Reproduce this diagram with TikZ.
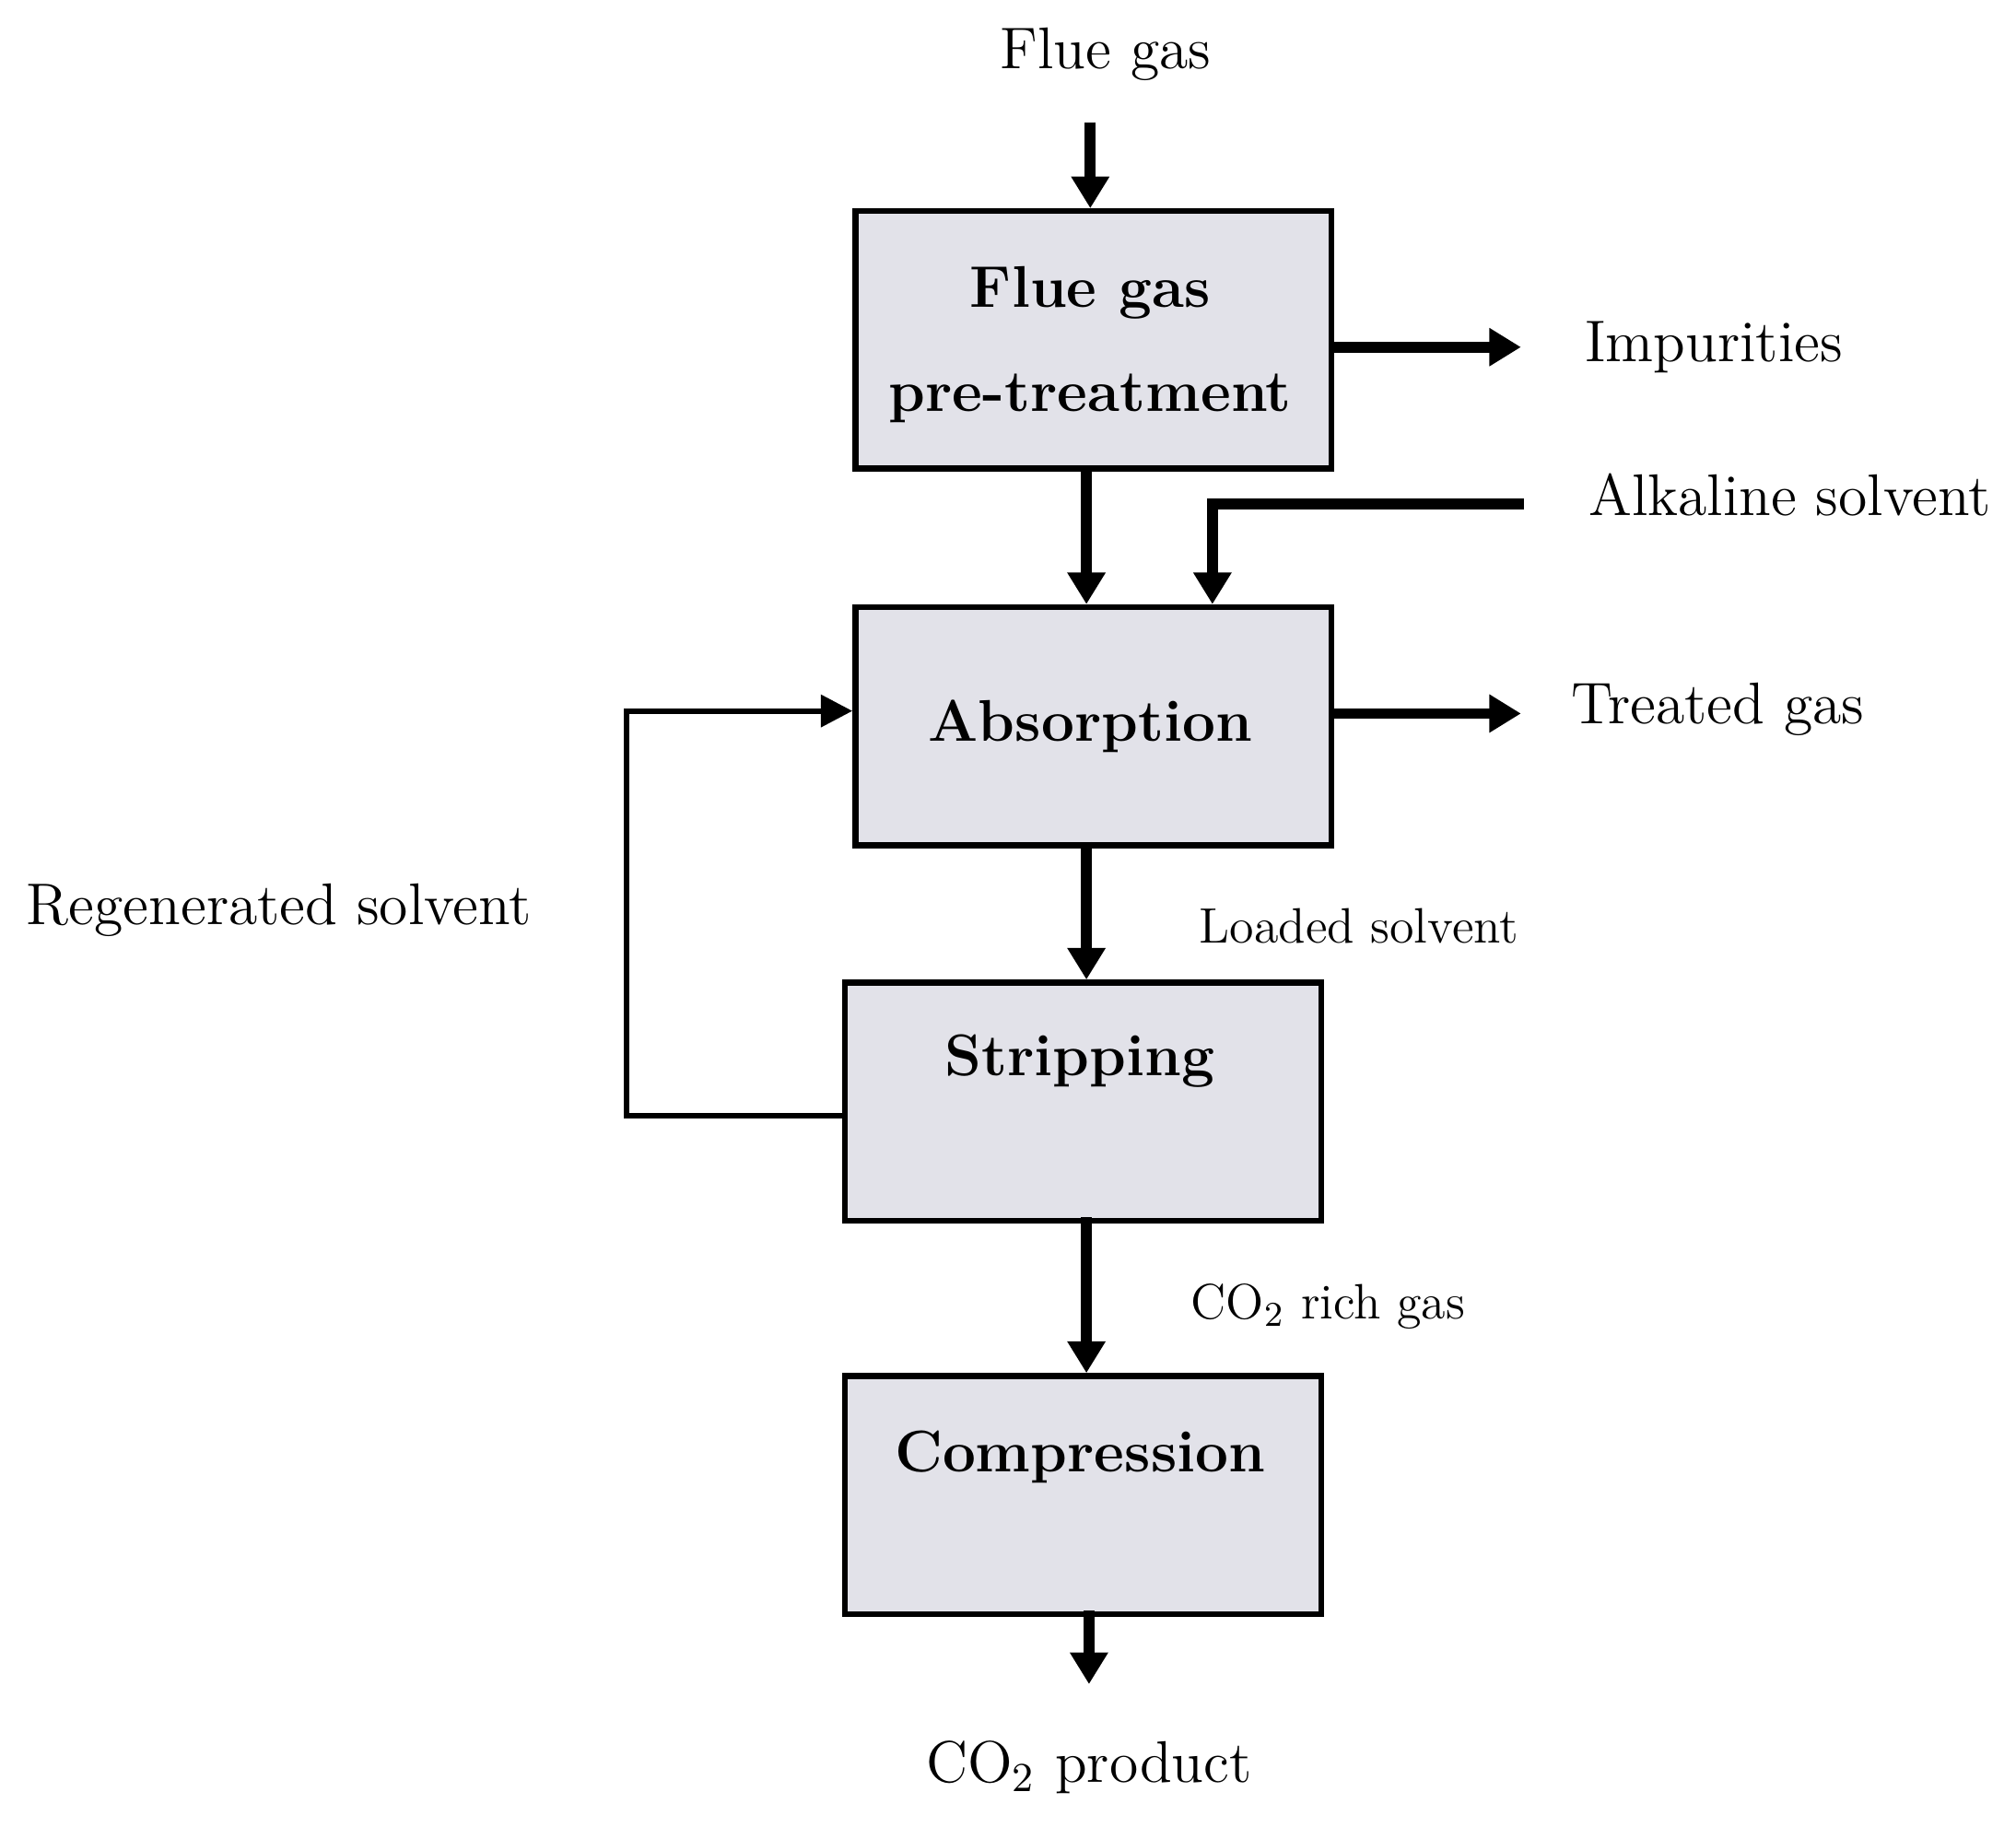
\documentclass[tikz,border=0pt]{standalone}
\usetikzlibrary{arrows.meta}
\begin{document}
\begin{tikzpicture}[x=0.01cm,y=-0.01cm,
  box/.style={draw,line width=1.3pt,fill=blue!15!gray!20,inner sep=0pt,anchor=north west},
  lbl/.style={font=\fontsize{13}{15}\selectfont},
  small/.style={font=\fontsize{11}{13}\selectfont},
  flow/.style={line width=2.4pt,-{Triangle[length=7pt,width=8pt]}},
  thin flow/.style={line width=1.2pt,-{Triangle[length=7pt,width=7pt]}}]
\useasboundingbox (0,0) rectangle (1568,1421);
\node[box,minimum width=370\pgflinewidth,minimum width=3.7cm,minimum height=2cm] (pre) at (663,162) {};
\node[font=\fontsize{13}{23}\selectfont\bfseries,align=center] at (848,268) {Flue gas\\pre-treatment};
\node[box,minimum width=3.7cm,minimum height=1.85cm] (abs) at (663,470) {};
\node[font=\fontsize{13}{15}\selectfont\bfseries] at (848,565) {Absorption};
\node[box,minimum width=3.7cm,minimum height=1.85cm] (str) at (655,762) {};
\node[font=\fontsize{13}{15}\selectfont\bfseries] at (840,825) {Stripping};
\node[box,minimum width=3.7cm,minimum height=1.85cm] (comp) at (655,1068) {};
\node[font=\fontsize{13}{15}\selectfont\bfseries] at (840,1133) {Compression};

\node[lbl] (flue) at (860,42) {Flue gas};
\node[lbl] (imp) at (1333,270) {Impurities};
\node[lbl] (alk) at (1392,385) {Alkaline solvent};
\node[lbl] (treat) at (1336,552) {Treated gas};
\node[lbl] (regen) at (217,708) {Regenerated solvent};
\node[small] (load) at (1057,720) {Loaded solvent};
\node[small] (rich) at (1033,1016) {CO\textsubscript{2} rich gas};
\node[lbl] (prod) at (847,1375) {CO\textsubscript{2} product};

\coordinate (fin) at (848,95);
\coordinate (alkin) at (1185,392);
\coordinate (pout) at (847,1310);
\draw[flow] (fin) -- (pre.north -| fin);
\draw[flow] (pre.east |- 0,270) -- (1183,270);
\draw[flow] (845,362) -- (845,470);
\draw[flow] (alkin) -| (943,470);
\draw[flow] (abs.east |- 0,555) -- (1183,555);
\draw[flow] (845,655) -- (845,762);
\draw[flow] (845,947) -- (845,1068);
\draw[flow] (847,1253) -- (pout);
\draw[thin flow] (str.west |- 0,868) -- (487,868) -- (487,553) -- (abs.west |- 0,553);
\end{tikzpicture}
\end{document}
